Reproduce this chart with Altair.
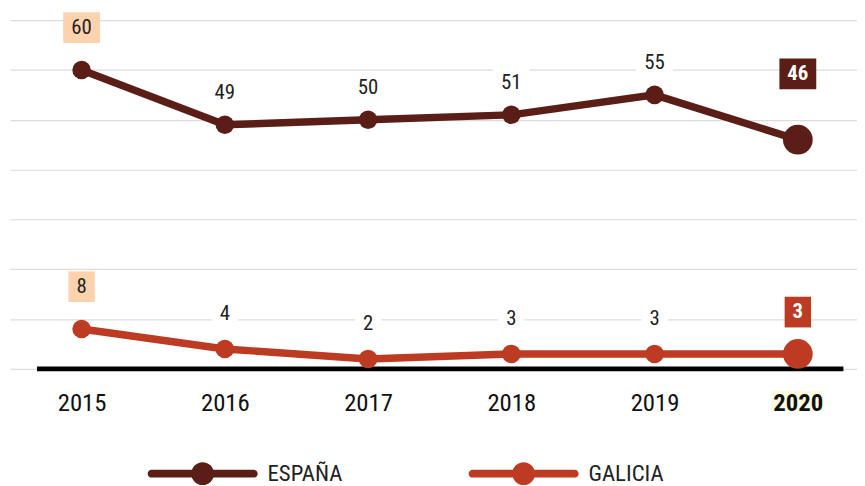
import altair as alt
import pandas as pd

years = [2015, 2016, 2017, 2018, 2019, 2020]
espana = [60, 49, 50, 51, 55, 46]
galicia = [8, 4, 2, 3, 3, 3]
series_names = ["ESPAÑA", "GALICIA"]
series_colors = ["#5b1e17", "#bc3b22"]
grid_values = [0, 10, 20, 30, 40, 50, 60, 70]

FIRST_BOX = "#fdd3ae"
HIGHLIGHT = "#fefbe0"
FONT = "Liberation Sans Narrow, Roboto Condensed, Arial Narrow, Roboto, sans-serif"

rows = []
for name, vals in zip(series_names, [espana, galicia]):
    for yr, v in zip(years, vals):
        rows.append({"year": yr, "series": name, "value": v})
df = pd.DataFrame(rows)

x_scale = alt.Scale(domain=[2014.5, 2020.413], nice=False, zero=False)
x_axis = alt.Axis(values=years, format="d", title=None, grid=False, domain=False, ticks=False,
                  labelFont=FONT, labelFontSize=25, labelColor="#111", labelPadding=22,
                  labelFlush=False,
                  labelFontWeight={"expr": "datum.value == 2020 ? 'bold' : 'normal'"},
                  zindex=1)
X = alt.X("year:Q", scale=x_scale, axis=x_axis)

y_scale = alt.Scale(domain=[0, 70], nice=False, zero=True)
y_axis = alt.Axis(values=grid_values, title=None, labels=False, ticks=False, domain=False,
                  grid=True, gridColor="#dcdcdc", gridWidth=1.2)


def Y(field):
    return alt.Y(f"{field}:Q", scale=y_scale, axis=y_axis)


color_scale = alt.Scale(domain=series_names, range=series_colors)

LEGEND_PATH = ("M-4.48,-0.35L4.48,-0.35A0.35,0.35 0 0 1 4.48,0.35L-4.48,0.35"
               "A0.35,0.35 0 0 1 -4.48,-0.35Z"
               "M-1,0A1,1 0 1 1 1,0A1,1 0 1 1 -1,0Z")
BOX1 = "M-0.86,-1L0.86,-1L0.86,1L-0.86,1Z"
BOX2 = "M-1.2,-1L1.2,-1L1.2,1L-1.2,1Z"
HL_PATH = "M-2.45,2L2.45,2L2.45,3.8L-2.45,3.8Z"

legend = alt.Legend(
    title=None, orient="none", legendX=183, legendY=446, direction="horizontal",
    symbolType=LEGEND_PATH, symbolSize=529, symbolStrokeWidth=0, symbolOpacity=1,
    symbolFillColor="#5b1e17",
    labelFont=FONT, labelFontSize=23, labelColor="#222", labelOffset=54,
    columnPadding=126, padding=0)

COLOR = alt.Color("series:N", scale=color_scale, legend=legend)

base = alt.Chart(df)

highlight = base.transform_filter(
    "datum.year == 2020 && datum.series == 'ESPAÑA'"
).mark_point(filled=True, opacity=1, strokeWidth=0, shape=HL_PATH, size=484,
             color=HIGHLIGHT).encode(x=X, y=alt.datum(0))

baseline = base.mark_rule(color="black", strokeWidth=5, xOffset=-45, x2Offset=46).encode(
    x=alt.X("min(year):Q", scale=x_scale, axis=x_axis),
    x2="max(year):Q",
    y=alt.datum(0),
)

lines = base.mark_line(strokeWidth=7.5, strokeCap="round").encode(
    x=X, y=Y("value"), color=COLOR,
)

points = base.mark_circle(opacity=1).encode(
    x=X, y=Y("value"), color=COLOR,
    size=alt.condition("datum.year == 2020", alt.value(900), alt.value(350)),
)

labeled = base.transform_calculate(
    lab="format(datum.value, 'd')",
    nd="toString(length(format(datum.value, 'd')))",
    bf=("datum.year == 2015 ? '%s' : (datum.year == 2020 ? "
        "(datum.series == 'ESPAÑA' ? '%s' : '%s') : 'white')") % (FIRST_BOX, series_colors[0], series_colors[1]),
    ly=("datum.value + (datum.year == 2015 ? 8.5 : (datum.year == 2020 ? "
        "(datum.series == 'ESPAÑA' ? 13.2 : 8.4) : (datum.series == 'ESPAÑA' ? 6.4 : 7)))"),
)

boxes = labeled.mark_point(filled=True, opacity=1, strokeWidth=0, size=961).encode(
    x=X, y=Y("ly"),
    shape=alt.Shape("nd:N", scale=alt.Scale(domain=["1", "2"], range=[BOX1, BOX2]), legend=None),
    fill=alt.Fill("bf:N", scale=None),
)

text_norm = labeled.transform_filter("datum.year != 2020").mark_text(
    font=FONT, fontSize=21, color="#222", baseline="middle", align="center"
).encode(x=X, y=Y("ly"), text="lab:N")

text_bold = labeled.transform_filter("datum.year == 2020").mark_text(
    font=FONT, fontSize=21, fontWeight="bold", color="white", baseline="middle", align="center"
).encode(x=X, y=Y("ly"), text="lab:N")

chart = alt.layer(highlight, baseline, lines, points, boxes, text_norm, text_bold).properties(
    width=855, height=352,
    autosize=alt.AutoSizeParams(type="none"),
    padding={"left": 2, "top": 10, "right": 0, "bottom": 120},
    background="white",
).configure_view(stroke=None)

chart.save("out.html", embed_options={"renderer": "svg", "actions": False})
